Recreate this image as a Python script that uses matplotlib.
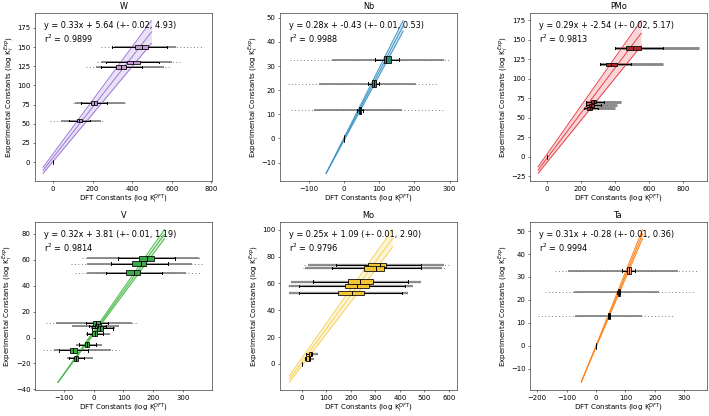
import numpy as np
import matplotlib
matplotlib.use("Agg")
import matplotlib.pyplot as plt

# ---------------- data ----------------
W_exp = [150, 130, 124, 77, 54, 0]
W_med = [447, 403, 343, 207, 132, 0]
W_q1 = [413, 373, 316, 190, 119, 0]
W_q3 = [481, 440, 370, 224, 148, 0]
W_wlo = [300, 270, 240, 140, 80, 0]
W_whi = [576, 537, 447, 274, 185, 0]
W_glo = [310, 240, 215, 111, 40, 0]
W_ghi = [620, 600, 560, 363, 240, 0]
W_dlo = [240, 224, 168, 100, -15, 0]
W_dhi = [762, 652, 593, 365, 255, 0]

Nb_exp = [32.6, 22.7, 11.7, 0]
Nb_med = [121, 85, 46, 0]
Nb_q1 = [114, 80, 43, 0]
Nb_q3 = [133, 90, 50, 0]
Nb_wlo = [88, 68, 38, 0]
Nb_whi = [156, 99, 54, 0]
Nb_glo = [-33, -71, -85, 0]
Nb_ghi = [284, 204, 166, 0]
Nb_dlo = [-152, -158, -149, 0]
Nb_dhi = [298, 265, 280, 0]

PMo_exp = [139.5, 118.7, 70.7, 66, 62, 0]
PMo_med = [510, 379, 280, 263, 253, 0]
PMo_q1 = [466, 349, 262, 248, 238, 0]
PMo_q3 = [554, 412, 291, 281, 267, 0]
PMo_wlo = [400, 316, 232, 232, 217, 0]
PMo_whi = [681, 496, 340, 320, 300, 0]
PMo_glo = [400, 316, 232, 232, 217, 0]
PMo_ghi = [895, 681, 437, 412, 404, 0]
PMo_dlo = [400, 316, 232, 232, 217, 0]
PMo_dhi = [895, 681, 437, 412, 404, 0]

V_exp = [61, 57, 50, 11, 9, 7, 3, -5.5, -10, -16]
V_med = [180, 158, 135, 9, 14, 21, 3, -22, -68, -60]
V_q1 = [152, 130, 110, -1, 4, 12, -5, -29, -80, -66]
V_q3 = [203, 177, 155, 21, 24, 31, 10, -16, -55, -52]
V_wlo = [82, 57, 40, -27, -15, -5, -21, -49, -117, -83]
V_whi = [273, 250, 228, 49, 40, 65, 32, 7, -18, -33]
V_glo = [-21, -21, -21, -128, -72, -10, -26, -58, -133, -90]
V_ghi = [354, 331, 309, 128, 85, 70, 55, 27, 57, -2]
V_dlo = [-38, -77, -63, -161, -72, -10, -26, -58, -170, -90]
V_dhi = [365, 370, 365, 146, 85, 70, 55, 27, 85, -2]

Mo_exp = [73.7, 71.3, 61.4, 58, 53, 7.4, 4, 0]
Mo_med = [320, 305, 237, 226, 205, 39, 29, 0]
Mo_q1 = [270, 255, 189, 178, 150, 32, 20, 0]
Mo_q3 = [345, 335, 289, 275, 254, 43, 33, 0]
Mo_wlo = [140, 125, 46, -10, -10, 18, 15, 0]
Mo_whi = [487, 487, 435, 421, 407, 43, 33, 0]
Mo_glo = [25, 15, -45, -51, -51, 18, 15, 0]
Mo_ghi = [580, 570, 487, 455, 432, 67, 50, 0]
Mo_dlo = [11, 4, -45, -55, -51, 18, 15, 0]
Mo_dhi = [600, 590, 487, 455, 432, 67, 50, 0]

Ta_exp = [32.8, 23.3, 13.0, 0]
Ta_med = [112, 78, 44, 0]
Ta_q1 = [106, 76, 42, 0]
Ta_q3 = [118, 80, 46, 0]
Ta_wlo = [90, 73, 41, 0]
Ta_whi = [131, 83, 47, 0]
Ta_glo = [-95, -76, -70, 0]
Ta_ghi = [280, 213, 156, 0]
Ta_dlo = [-140, -174, -197, 0]
Ta_dhi = [350, 337, 264, 0]

# fit: slope, intercept, slope err, intercept err, r2
W_fit = [0.33, 5.64, 0.02, 4.93, 0.9899]
Nb_fit = [0.28, -0.43, 0.01, 0.53, 0.9988]
PMo_fit = [0.29, -2.54, 0.02, 5.17, 0.9813]
V_fit = [0.32, 3.81, 0.01, 1.19, 0.9814]
Mo_fit = [0.25, 1.09, 0.01, 2.90, 0.9796]
Ta_fit = [0.31, -0.28, 0.01, 0.36, 0.9994]

# x-range of fitted line
W_span = [-50, 497]
Nb_span = [-50, 168]
PMo_span = [-50, 555]
V_span = [-120, 237]
Mo_span = [-50, 370]
Ta_span = [-50, 158]

panels = [
    ("W", W_exp, W_med, W_q1, W_q3, W_wlo, W_whi, W_glo, W_ghi, W_dlo, W_dhi, W_fit, W_span),
    ("Nb", Nb_exp, Nb_med, Nb_q1, Nb_q3, Nb_wlo, Nb_whi, Nb_glo, Nb_ghi, Nb_dlo, Nb_dhi, Nb_fit, Nb_span),
    ("PMo", PMo_exp, PMo_med, PMo_q1, PMo_q3, PMo_wlo, PMo_whi, PMo_glo, PMo_ghi, PMo_dlo, PMo_dhi, PMo_fit, PMo_span),
    ("V", V_exp, V_med, V_q1, V_q3, V_wlo, V_whi, V_glo, V_ghi, V_dlo, V_dhi, V_fit, V_span),
    ("Mo", Mo_exp, Mo_med, Mo_q1, Mo_q3, Mo_wlo, Mo_whi, Mo_glo, Mo_ghi, Mo_dlo, Mo_dhi, Mo_fit, Mo_span),
    ("Ta", Ta_exp, Ta_med, Ta_q1, Ta_q3, Ta_wlo, Ta_whi, Ta_glo, Ta_ghi, Ta_dlo, Ta_dhi, Ta_fit, Ta_span),
]

line_colors = {"W": "#9b79d9", "Nb": "#3d94c4", "PMo": "#e8434a",
               "V": "#4cbb4c", "Mo": "#f7d25a", "Ta": "#ff8419"}
box_colors = {"W": "#c59ad2", "Nb": "#2b8a78", "PMo": "#a82a2a",
              "V": "#3aaa48", "Mo": "#f3c534", "Ta": "#f3957a"}
box_widths = {"W": 4.2, "Nb": 2.8, "PMo": 4.5, "V": 3.6, "Mo": 3.4, "Ta": 2.8}
gray_lw = {"W": 3.0, "Nb": 3.0, "PMo": 4.5, "V": 3.0, "Mo": 3.5, "Ta": 3.0}

# ---------------- figure ----------------
DPI = 47
W_PX, H_PX = 709, 416
fig = plt.figure(figsize=(W_PX / DPI, H_PX / DPI), dpi=DPI)

col_left = [35, 280, 530]
row_top = [13, 222]
ax_w, ax_h = 177, 168

for i, p in enumerate(panels):
    (name, exp, med, q1, q3, wlo, whi, glo, ghi, dlo, dhi, fit, span) = p
    r, c = divmod(i, 3)
    l = col_left[c] / W_PX
    b = 1 - (row_top[r] + ax_h) / H_PX
    ax = fig.add_axes([l, b, ax_w / W_PX, ax_h / H_PX])

    # gray spread of samples
    for y, a, bb, a2, b2 in zip(exp, dlo, dhi, glo, ghi):
        ax.plot([a, bb], [y, y], color="0.4", lw=1.5, ls=(0, (1, 2.5)),
                alpha=0.85, zorder=1)
        ax.plot([a2, b2], [y, y], color="0.45", lw=gray_lw[name], alpha=0.8,
                solid_capstyle="butt", zorder=1)

    # fit line with band
    m, k, dm, dk, r2 = fit
    xs = np.array(span, dtype=float)
    col = line_colors[name]
    up = (m + dm) * xs + (k + dk)
    lo = (m - dm) * xs + (k - dk)
    ax.fill_between(xs, lo, up, color=col, alpha=0.22, lw=0, zorder=2)
    ax.plot(xs, m * xs + k, color=col, lw=1.5, zorder=2)
    ax.plot(xs, up, color=col, lw=1.5, zorder=2)
    ax.plot(xs, lo, color=col, lw=1.5, zorder=2)

    # boxes
    stats = [dict(med=md, q1=a, q3=bb, whislo=wl, whishi=wh, fliers=[])
             for md, a, bb, wl, wh in zip(med, q1, q3, wlo, whi)]
    ax.bxp(stats, positions=exp, widths=box_widths[name],
           orientation="horizontal", patch_artist=True, showfliers=False,
           manage_ticks=False,
           boxprops=dict(facecolor=box_colors[name], edgecolor="black", linewidth=1.2),
           medianprops=dict(color="black", linewidth=1.5),
           whiskerprops=dict(color="black", linewidth=1.5),
           capprops=dict(color="black", linewidth=1.5), zorder=3)

    ax.text(0.05, 0.95, f"y = {m:.2f}x + {k:.2f} (+- {dm:.2f}, {dk:.2f})\nr$^2$ = {r2:.4f}",
            transform=ax.transAxes, va="top", ha="left", fontsize=12.5, zorder=5)
    ax.set_title(name, fontsize=12.5)
    ax.set_xlabel(r"DFT Constants (log K$_i^{DFT}$)", fontsize=11, labelpad=2)
    ax.set_ylabel(r"Experimental Constants (log K$_i^{Exp}$)", fontsize=11, labelpad=2)
    ax.tick_params(labelsize=10.5)

fig.savefig("out.png", dpi=DPI)
